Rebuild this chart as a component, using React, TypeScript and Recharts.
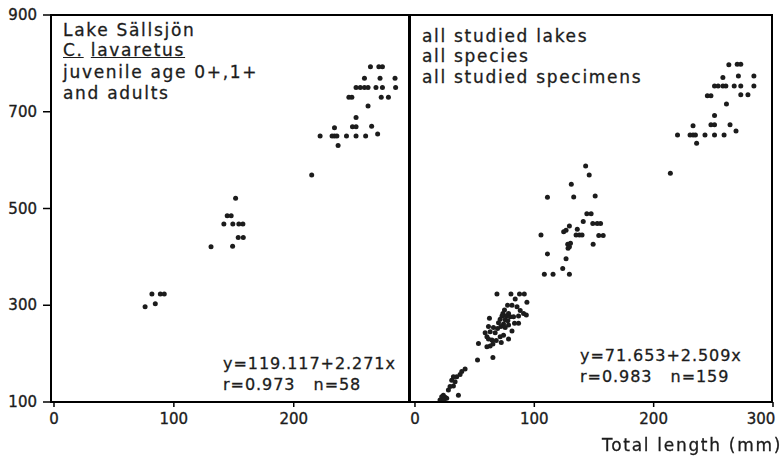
import React from "react";
import { ScatterChart, Scatter, XAxis, YAxis } from "recharts";

// total length (mm) and weight
const sallsjonFish: [number, number][] = [
  [76, 297], [84.5, 303], [81.7, 323], [88.7, 323], [92, 323],
  [151.5, 521], [144.5, 485], [147.8, 485], [141.7, 468], [149.2, 468], [154.2, 468], [157.6, 468],
  [153.7, 440], [157.9, 440], [131, 421], [149, 422],
  [264, 793], [271, 793], [274, 793], [259, 769], [272, 769], [284.5, 769],
  [252, 750], [255.5, 750], [259, 750], [262, 750], [268.6, 750], [274, 750], [285, 750],
  [246, 730], [248.5, 730], [273, 730], [279, 730], [262, 712], [252, 688],
  [234, 667], [249, 669], [252, 669], [265, 670], [270, 654],
  [222, 650], [232, 650], [234, 650], [236, 650], [244, 650], [252, 650], [260, 650],
  [237, 630], [215, 569],
];

const allLakesFish: [number, number][] = [
  // adults
  [263, 797], [270, 798], [273, 798], [258, 771], [271, 774], [284, 774],
  [251, 753], [254, 753], [258, 753], [260.5, 753], [267.5, 753], [273, 753], [284, 753],
  [245, 733], [248, 733], [273, 735], [279, 735], [261, 716], [251, 692],
  [233, 671], [248, 673], [251, 673], [264, 673], [269, 660],
  [220, 652], [230.5, 652], [233, 652], [235, 652], [243, 652], [251, 652], [259, 652],
  [236, 635], [214, 573],
  // age 1+
  [143, 588], [146, 569], [131, 550], [111, 523], [133, 524], [151, 526],
  [144, 489], [147.6, 489], [141, 473], [149, 469], [152.7, 469], [155.5, 469],
  [129.4, 464], [126.6, 455], [124.6, 452], [136, 457], [135, 445], [137.8, 445], [140, 445],
  [105.6, 445], [154, 444], [157.7, 444], [128, 426], [130.3, 428], [129.4, 421], [128.3, 418],
  [149.3, 426], [111, 406], [126.6, 396], [123.8, 376], [108.4, 364], [115.7, 364], [129.4, 364],
  // age 0+
  [68.7, 323], [80.4, 323], [87.6, 323], [91.6, 323], [84, 313], [93.8, 306],
  [77.6, 300], [81.3, 300], [85.5, 297], [75, 290], [88.2, 289], [73.7, 283], [78.4, 283], [91, 283],
  [72.9, 278], [76.5, 278], [79.8, 276], [82.6, 276], [86.8, 278], [93.3, 280],
  [62.4, 273], [71.4, 271], [75.6, 270], [77.9, 268], [83.4, 263], [86.8, 263],
  [70, 264], [74.2, 261], [78.4, 259], [72, 256], [75.6, 254], [61.6, 256], [65.8, 254], [69.2, 252],
  [81.3, 247], [58.8, 243], [63, 245], [67.2, 243], [71.4, 235], [74.2, 238],
  [60.3, 235], [61.6, 230], [64.5, 228], [68.1, 227], [78.4, 230], [65.3, 220], [72.3, 223],
  [60.3, 214], [63, 216], [53.2, 221], [52.4, 187], [65.3, 192],
  [42, 168], [39.2, 163], [37.8, 157], [35, 152], [32.2, 152], [30.8, 145], [33.6, 142], [32.2, 133],
  [36.4, 114], [29.4, 132], [28, 125], [23.8, 114], [22.4, 111], [25.2, 110], [26.6, 108],
  [21, 104], [24.4, 104],
];

const weightTicks = [100, 300, 500, 700, 900];
const innerWeightTicks = [300, 500, 700];
const leftLengthTicks = [0, 100, 200];
const rightLengthTicks = [0, 100, 200, 300];

const leftNotes = ["Lake Sällsjön", "juvenile age 0+,1+", "and adults"];
const rightNotes = ["all studied lakes", "all species", "all studied specimens"];
const leftFit = ["y=119.117+2.271x", "r=0.973   n=58"];
const rightFit = ["y=71.653+2.509x", "r=0.983   n=159"];

const INK = "#1c1c1c";
const LINE = "#000";
const FONT = "'DejaVu Sans', Verdana, sans-serif";

const toPoints = (pairs: [number, number][]) => pairs.map(([x, y]) => ({ x, y }));

const Dot = (props: any) => <circle cx={props.cx} cy={props.cy} r={2.5} fill={INK} />;

const WeightTick = ({ x, y, payload }: any) => (
  <text x={x} y={y} dy={5} textAnchor="end" fontSize={15} fill={INK} fontFamily={FONT} stroke={INK} strokeWidth={0.35}>
    {payload.value}
  </text>
);

// last label is nudged left so it stays on the page
const LengthTick = ({ x, y, payload }: any) => (
  <text
    x={payload.value === 300 ? x - 9 : x}
    y={y}
    dy={15}
    textAnchor="middle"
    fontSize={15}
    fill={INK}
    fontFamily={FONT}
    stroke={INK}
    strokeWidth={0.35}
  >
    {payload.value}
  </text>
);

// html label placed by its baseline
const Label = ({ x, base, size = 17, spacing = 1.7, right, children }: any) => (
  <div
    style={{
      position: "absolute",
      left: right === undefined ? x : undefined,
      right,
      top: base - 0.846 * size,
      fontFamily: FONT,
      fontSize: size,
      lineHeight: `${size}px`,
      letterSpacing: spacing,
      color: INK,
      whiteSpace: "pre",
      WebkitTextStroke: "0.3px #1c1c1c",
    }}
  >
    {children}
  </div>
);

// panel outline
const Frame = ({ left, width }: any) => (
  <div
    style={{
      position: "absolute",
      left,
      top: 14,
      width,
      height: 389,
      boxSizing: "border-box",
      border: `2px solid ${LINE}`,
      pointerEvents: "none",
    }}
  />
);

export default function App() {
  return (
    <div style={{ position: "fixed", left: 0, top: 0, width: 782, height: 456, background: "#fff" }}>
      <div style={{ position: "absolute", left: 0, top: 0 }}>
        <ScatterChart width={412} height={456} margin={{ top: 15, right: 2, bottom: 24, left: 0 }}>
          <XAxis
            type="number"
            dataKey="x"
            domain={[-2.5, 297]}
            ticks={leftLengthTicks}
            axisLine={false}
            stroke={LINE}
            strokeWidth={1.5}
            tickSize={5}
            height={30}
            tick={<LengthTick />}
          />
          <YAxis
            type="number"
            dataKey="y"
            domain={[100, 900]}
            ticks={weightTicks}
            axisLine={false}
            stroke={LINE}
            strokeWidth={1.5}
            tickSize={8}
            tickMargin={6}
            width={51}
            tick={<WeightTick />}
          />
          <YAxis
            yAxisId="inner"
            orientation="right"
            type="number"
            domain={[100, 900]}
            ticks={innerWeightTicks}
            stroke={LINE}
            strokeWidth={2}
            tickSize={6}
            mirror
            tick={false}
            width={1}
          />
          <Scatter data={toPoints(sallsjonFish)} shape={<Dot />} isAnimationActive={false} />
        </ScatterChart>
      </div>
      <div style={{ position: "absolute", left: 400, top: 0 }}>
        <ScatterChart width={382} height={456} margin={{ top: 15, right: 9, bottom: 24, left: 9 }}>
          <XAxis
            type="number"
            dataKey="x"
            domain={[-5, 300]}
            ticks={rightLengthTicks}
            axisLine={false}
            stroke={LINE}
            strokeWidth={1.5}
            tickSize={5}
            height={30}
            tick={<LengthTick />}
          />
          <YAxis type="number" dataKey="y" domain={[100, 900]} hide />
          <Scatter data={toPoints(allLakesFish)} shape={<Dot />} isAnimationActive={false} />
        </ScatterChart>
      </div>
      <Frame left={50} width={360} />
      <Frame left={408} width={365} />
      <Label x={63} base={36}>{leftNotes[0]}</Label>
      <Label x={63} base={56}>
        <span style={{ textDecoration: "underline" }}>C.</span> <span style={{ textDecoration: "underline" }}>lavaretus</span>
      </Label>
      <Label x={63} base={78}>{leftNotes[1]}</Label>
      <Label x={63} base={99}>{leftNotes[2]}</Label>
      {rightNotes.map((t, i) => (
        <Label key={t} x={422} base={42 + i * 20.5}>{t}</Label>
      ))}
      {leftFit.map((t, i) => (
        <Label key={t} x={223} base={370 + i * 21} size={16} spacing={0.95}>{t}</Label>
      ))}
      {rightFit.map((t, i) => (
        <Label key={t} x={580} base={362 + i * 21} size={16} spacing={0.95}>{t}</Label>
      ))}
      <Label right={0} base={451}>Total length (mm)</Label>
    </div>
  );
}
